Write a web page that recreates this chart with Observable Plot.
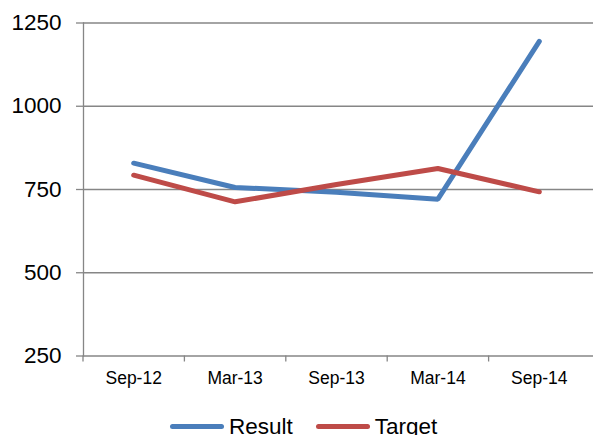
<!DOCTYPE html>
<html>
<head>
<meta charset="utf-8">
<script src="https://cdn.jsdelivr.net/npm/d3@7"></script>
<script src="https://cdn.jsdelivr.net/npm/@observablehq/plot@0.6"></script>
<style>
  html, body { margin: 0; padding: 0; background: #fff; }
  #wrap { position: relative; width: 593px; height: 435px; overflow: hidden; font-family: "Liberation Sans", Arial, sans-serif; }
  #legend { position: absolute; left: 170px; top: 416px; display: flex; align-items: center; font-size: 22.5px; line-height: 22px; color: #000; white-space: nowrap; }
  .sw { display: inline-block; width: 54px; height: 5px; border-radius: 3px; margin-right: 5px; position: relative; top: -1px; }
  .lab { margin-right: 23px; }
</style>
</head>
<body>
<div id="wrap"><div id="chart"></div>
<div id="legend"></div></div>
<script>
const categories = ["Sep-12", "Mar-13", "Sep-13", "Mar-14", "Sep-14"];
const resultValues = [829, 756, 742, 721, 1195];
const targetValues = [793, 713, 765, 813, 743];
const yTicks = [250, 500, 750, 1000, 1250];
const seriesNames = ["Result", "Target"];
const seriesColors = ["#4A7EBB", "#BE4B48"];

const rows = [];
categories.forEach((c, i) => {
  rows.push({i, cat: c, series: "Result", value: resultValues[i]});
  rows.push({i, cat: c, series: "Target", value: targetValues[i]});
});
const idx = categories.map((_, i) => i);
const bounds = categories.map((_, i) => i - 0.5);

const gray = "#868686";
const chart = Plot.plot({
  width: 593,
  height: 400,
  marginLeft: 83,
  marginRight: 0,
  marginTop: 22.5,
  marginBottom: 44.5,
  style: {fontFamily: "'Liberation Sans', Arial, sans-serif", background: "#fff", color: "#000"},
  x: {type: "linear", domain: [-0.5, categories.length - 0.5], range: [82.5, 589.5]},
  y: {domain: [250, 1250], range: [355.5, 22.5]},
  color: {domain: seriesNames, range: seriesColors},
  marks: [
    Plot.ruleY(yTicks, {stroke: gray, strokeWidth: 1.3}),
    Plot.frame({anchor: "left", stroke: gray, strokeWidth: 1.3}),
    Plot.axisY({ticks: yTicks, tickSize: 7, tickPadding: 15, fontSize: 22.5, stroke: gray, strokeWidth: 1.3, label: null, tickFormat: d => String(d)}),
    Plot.axisX({ticks: bounds, tickSize: 6, stroke: gray, strokeWidth: 1.3, tickFormat: () => "", label: null}),
    Plot.axisX({ticks: idx, tickSize: 0, tickPadding: 15.5, fontSize: 17.5, tickFormat: i => categories[i], label: null}),
    Plot.line(rows, {x: "i", y: "value", z: "series", stroke: "series", strokeWidth: 5, strokeLinecap: "round", strokeLinejoin: "miter"})
  ]
});
document.getElementById("chart").appendChild(chart);

const legend = document.getElementById("legend");
seriesNames.forEach((n, k) => {
  const sw = document.createElement("span");
  sw.className = "sw";
  sw.style.background = seriesColors[k];
  const t = document.createElement("span");
  t.className = "lab";
  t.textContent = n;
  legend.appendChild(sw);
  legend.appendChild(t);
});
</script>
</body>
</html>
